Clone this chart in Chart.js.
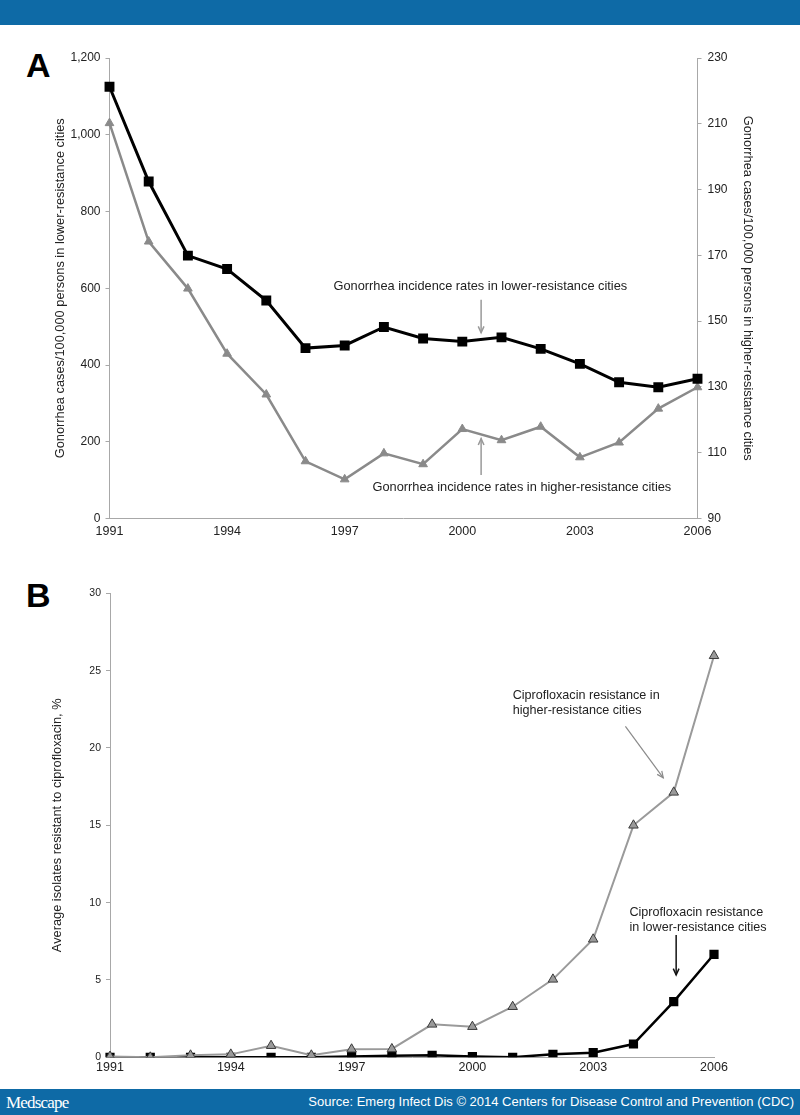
<!DOCTYPE html>
<html>
<head>
<meta charset="utf-8">
<script src="https://cdn.jsdelivr.net/npm/chart.js@4/dist/chart.umd.min.js"></script>
<style>
  html, body { margin: 0; padding: 0; background: #fff; }
  #page { position: relative; width: 800px; height: 1115px; overflow: hidden; font-family: 'Liberation Sans', Arial, sans-serif; }
  .band { position: absolute; left: 0; width: 800px; background: #0e6aa6; }
  #top-band { top: 0; height: 25px; }
  #bottom-band { top: 1089px; height: 26px; }
  .panel-letter { position: absolute; font-weight: bold; font-size: 34px; line-height: 1; color: #000; }
  #brand { position: absolute; left: 6px; top: 4px; color: #fff; font-family: 'Liberation Serif', 'DejaVu Serif', serif; font-size: 17px; letter-spacing: -0.8px; }
  #source { position: absolute; right: 6px; top: 5px; color: #fff; font-size: 13px; }
  canvas { position: absolute; left: 0; }
</style>
</head>
<body>
<div id="page">
  <div id="top-band" class="band"></div>
  <div class="panel-letter" style="left:26px; top:48px;">A</div>
  <div class="panel-letter" style="left:26px; top:578px;">B</div>
  <canvas id="chartA" width="800" height="535" style="top:25px;"></canvas>
  <canvas id="chartB" width="800" height="530" style="top:560px;"></canvas>
  <div id="bottom-band" class="band">
    <div id="brand">Medscape</div>
    <div id="source">Source: Emerg Infect Dis © 2014 Centers for Disease Control and Prevention (CDC)</div>
  </div>
</div>
<script>
// données
const years = ['1991', '1992', '1993', '1994', '1995', '1996', '1997', '1998',
               '1999', '2000', '2001', '2002', '2003', '2004', '2005', '2006'];
const tickYears = ['1991', '1994', '1997', '2000', '2003', '2006'];

// panneau A : incidence /100 000
const incidenceLower = [1125, 878, 685, 650, 568, 444, 451, 499, 469, 461, 472, 442, 403, 355, 342, 364];
const incidenceHigher = [210.2, 174.2, 159.9, 140.1, 127.7, 107.4, 101.9, 109.8, 106.5, 117.2, 113.8, 117.9, 108.6, 113.1, 123.4, 129.9];

// panneau B : % résistants à la ciprofloxacine
const resistLower = [0, 0, 0, 0, 0, 0, 0.05, 0.1, 0.13, 0.05, 0, 0.19, 0.3, 0.86, 3.6, 6.66];
const resistHigher = [0.05, 0, 0.13, 0.19, 0.75, 0.13, 0.52, 0.54, 2.13, 1.98, 3.27, 5.04, 7.63, 15.0, 17.13, 25.96];

const leftRangeA = [0, 1200, 200];
const rightRangeA = [90, 230, 20];
const rangeB = [0, 30, 5];

const FONT = "'Liberation Sans', Arial, sans-serif";
Chart.defaults.font.family = FONT;
Chart.defaults.color = '#222';

const AXIS_GREY = '#a8a8a8';

// texte + flèches dessinés à partir des échelles
const notesPlugin = {
  id: 'notes',
  afterDraw(chart, args, opts) {
    const ctx = chart.ctx;
    const xs = chart.scales.x;
    (opts.items || []).forEach(n => {
      const ys = chart.scales[n.axis];
      ctx.save();
      ctx.font = opts.font;
      ctx.fillStyle = '#222';
      ctx.textAlign = n.align;
      ctx.textBaseline = 'middle';
      n.lines.forEach((line, i) => {
        ctx.fillText(line, xs.getPixelForValue(n.x), ys.getPixelForValue(n.y) + i * (n.gap || 0));
      });
      if (n.arrow) {
        const a = n.arrow;
        const x1 = xs.getPixelForValue(a.from[0]), y1 = ys.getPixelForValue(a.from[1]);
        const x2 = xs.getPixelForValue(a.to[0]), y2 = ys.getPixelForValue(a.to[1]);
        ctx.strokeStyle = a.color;
        ctx.lineWidth = a.width;
        ctx.beginPath();
        ctx.moveTo(x1, y1);
        ctx.lineTo(x2, y2);
        ctx.stroke();
        const ang = Math.atan2(y2 - y1, x2 - x1);
        const h = 7;
        ctx.beginPath();
        ctx.moveTo(x2 - h * Math.cos(ang - 0.42), y2 - h * Math.sin(ang - 0.42));
        ctx.lineTo(x2, y2);
        ctx.lineTo(x2 - h * Math.cos(ang + 0.42), y2 - h * Math.sin(ang + 0.42));
        ctx.stroke();
      }
      ctx.restore();
    });
  }
};

function xAxis(height, pad) {
  return {
    type: 'category',
    offset: false,
    border: { color: AXIS_GREY, width: 1 },
    grid: { display: true, drawOnChartArea: false, drawTicks: false },
    ticks: {
      autoSkip: false, maxRotation: 0, padding: pad,
      color: '#222', font: { size: 12.5 },
      callback: function (v) {
        const lab = this.getLabelForValue(v);
        return tickYears.includes(lab) ? lab : '';
      }
    },
    afterFit: s => { s.height = height; }
  };
}

function yAxis(pos, range, width, titleText, titlePad, fontSize, labelPad) {
  return {
    type: 'linear',
    position: pos,
    min: range[0], max: range[1],
    border: { color: AXIS_GREY, width: 1 },
    grid: { drawOnChartArea: false, drawTicks: true, tickLength: 4, color: AXIS_GREY },
    ticks: { stepSize: range[2], padding: labelPad, color: '#222', font: { size: fontSize } },
    title: titleText ? {
      display: true, text: titleText, color: '#222',
      font: { size: 12.8 }, padding: { top: titlePad, bottom: 0 }
    } : { display: false },
    afterFit: s => { s.width = width; }
  };
}

new Chart(document.getElementById('chartA'), {
  type: 'line',
  data: {
    labels: years,
    datasets: [
      {
        label: 'lower-resistance cities',
        data: incidenceLower,
        yAxisID: 'yL',
        borderColor: '#000', backgroundColor: '#000',
        borderWidth: 3, pointStyle: 'rect', pointRadius: 7,
        pointBorderWidth: 0, tension: 0
      },
      {
        label: 'higher-resistance cities',
        data: incidenceHigher,
        yAxisID: 'yR',
        borderColor: '#8a8a8a', backgroundColor: '#8a8a8a',
        borderWidth: 2.5, pointStyle: 'triangle', pointRadius: 5,
        pointBorderWidth: 1, tension: 0
      }
    ]
  },
  options: {
    responsive: false,
    animation: false,
    layout: { padding: { top: 33, left: 0, right: 0, bottom: 0 } },
    plugins: {
      legend: { display: false },
      tooltip: { enabled: false },
      notes: {
        font: "12.8px " + FONT,
        items: [
          { lines: ['Gonorrhea incidence rates in lower-resistance cities'], x: 9.46, y: 604, axis: 'yL', align: 'center',
            arrow: { from: [9.48, 570], to: [9.48, 484], color: '#999', width: 1.5 } },
          { lines: ['Gonorrhea incidence rates in higher-resistance cities'], x: 10.52, y: 99.3, axis: 'yR', align: 'center',
            arrow: { from: [9.48, 103.2], to: [9.48, 114.3], color: '#999', width: 1.5 } }
        ]
      }
    },
    scales: {
      x: xAxis(41.5, 6),
      yL: yAxis('left', leftRangeA, 109.5, 'Gonorrhea cases/100,000 persons in lower-resistance cities', 53, 12, 5),
      yR: yAxis('right', rightRangeA, 102.5, 'Gonorrhea cases/100,000 persons in higher-resistance cities', 45, 12, 6)
    }
  },
  plugins: [notesPlugin]
});

new Chart(document.getElementById('chartB'), {
  type: 'line',
  data: {
    labels: years,
    datasets: [
      {
        label: 'higher-resistance cities',
        data: resistHigher,
        borderColor: '#9a9a9a', backgroundColor: '#9a9a9a',
        borderWidth: 2, pointStyle: 'triangle', pointRadius: 5.5,
        pointBorderColor: '#3a3a3a', pointBorderWidth: 1, tension: 0
      },
      {
        label: 'lower-resistance cities',
        data: resistLower,
        borderColor: '#000', backgroundColor: '#000',
        borderWidth: 2.5, pointStyle: 'rect', pointRadius: 6.5,
        pointBorderWidth: 0, tension: 0
      }
    ]
  },
  options: {
    responsive: false,
    animation: false,
    layout: { padding: { top: 33.3, left: 0, right: 86, bottom: 0 } },
    plugins: {
      legend: { display: false },
      tooltip: { enabled: false },
      notes: {
        font: "12.6px " + FONT,
        items: [
          { lines: ['Ciprofloxacin resistance in', 'higher-resistance cities'], x: 10.0, y: 23.4, axis: 'y', align: 'left', gap: 15.5,
            arrow: { from: [12.8, 21.4], to: [13.74, 18.07], color: '#8a8a8a', width: 1.2 } },
          { lines: ['Ciprofloxacin resistance', 'in lower-resistance cities'], x: 12.9, y: 9.37, axis: 'y', align: 'left', gap: 15.5,
            arrow: { from: [14.06, 7.9], to: [14.06, 5.32], color: '#111', width: 1.5 } }
        ]
      }
    },
    scales: {
      x: xAxis(32.7, 3),
      y: yAxis('left', rangeB, 110, 'Average isolates resistant to ciprofloxacin, %', 50, 10.5, 5)
    }
  },
  plugins: [notesPlugin]
});
</script>
</body>
</html>
